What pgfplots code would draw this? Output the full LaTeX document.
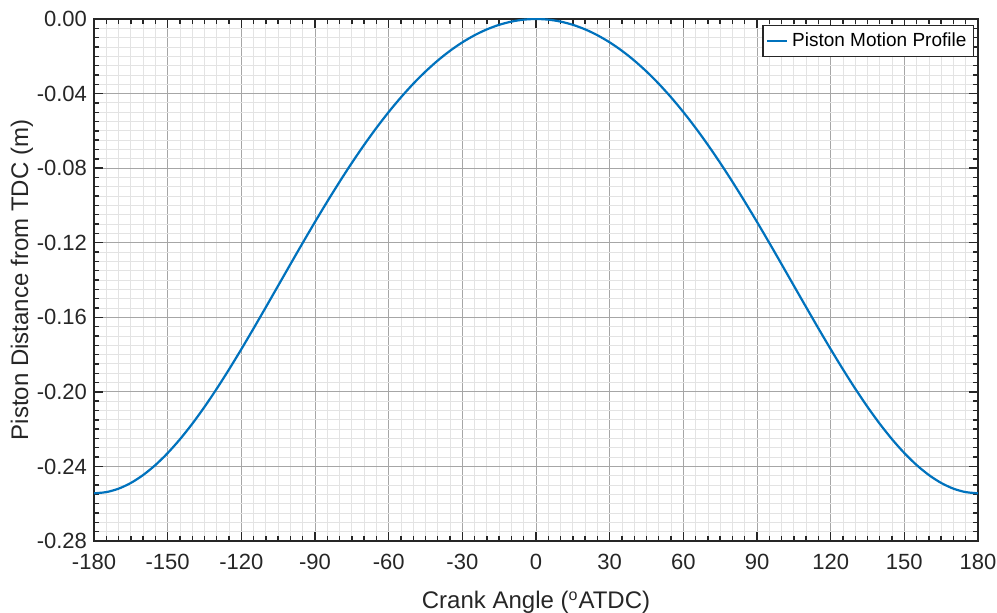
\documentclass[border=0pt]{standalone}
\usepackage{fontspec}
\setmainfont{Liberation Sans}
\usepackage{pgfplots}
\pgfplotsset{compat=1.18}
\definecolor{mblue}{rgb}{0,0.447,0.741}
\definecolor{axcol}{rgb}{0.15,0.15,0.15}
\begin{document}
\begin{tikzpicture}
\begin{axis}[
  scale only axis,
  width=442pt, height=261pt,
  xmin=-180, xmax=180, ymin=-0.28, ymax=0,
  xtick={-180,-150,...,180},
  ytick={-0.28,-0.24,-0.20,-0.16,-0.12,-0.08,-0.04,0},
  minor x tick num=5,
  minor y tick num=7,
  grid=both,
  major grid style={draw=black!35, line width=0.5pt},
  minor grid style={draw=black!11, line width=0.4pt},
  axis line style={draw=axcol, line width=0.8pt},
  tick style={draw=axcol, line width=0.7pt},
  major tick length=4.4pt,
  minor tick length=2.4pt,
  tick align=inside,
  xtick pos=both, ytick pos=both,
  /pgf/number format/assume math mode=true,
  ticklabel style={font=\fontsize{11}{13}\selectfont, text=axcol},
  xticklabel style={yshift=-3pt},
  yticklabel style={/pgf/number format/fixed, /pgf/number format/fixed zerofill, /pgf/number format/precision=2},
  xlabel={Crank Angle (\textsuperscript{o}ATDC)},
  ylabel={Piston Distance from TDC (m)},
  label style={font=\fontsize{12}{14}\selectfont, text=axcol},
  xlabel style={yshift=-4pt},
  ylabel style={yshift=-5pt},
  legend style={at={(1,1)}, anchor=north east, xshift=-2pt, yshift=-3pt,
    font=\fontsize{9.5}{11}\selectfont, draw=axcol, line width=0.6pt, inner sep=1.5pt,
    cells={anchor=west}},
  legend image code/.code={\draw[#1, line width=1.1pt] (0pt,0pt) -- (10pt,0pt);},
  legend cell align=left,
]
\addplot[mblue, line width=1.1pt, smooth] coordinates {
(-180,-0.25440)(-175,-0.25378)(-170,-0.25193)(-165,-0.24886)(-160,-0.24462)
(-155,-0.23926)(-150,-0.23284)(-145,-0.22544)(-140,-0.21715)(-135,-0.20807)
(-130,-0.19829)(-125,-0.18793)(-120,-0.17711)(-115,-0.16595)(-110,-0.15455)
(-105,-0.14304)(-100,-0.13151)(-95,-0.12009)(-90,-0.10886)(-85,-0.09792)
(-80,-0.08734)(-75,-0.07719)(-70,-0.06754)(-65,-0.05843)(-60,-0.04991)
(-55,-0.04202)(-50,-0.03476)(-45,-0.02818)(-40,-0.02227)(-35,-0.01705)
(-30,-0.01253)(-25,-0.00870)(-20,-0.00556)(-15,-0.00313)(-10,-0.00139)
(-5,-0.00035)(0,0)
(5,-0.00035)(10,-0.00139)(15,-0.00313)(20,-0.00556)(25,-0.00870)
(30,-0.01253)(35,-0.01705)(40,-0.02227)(45,-0.02818)(50,-0.03476)
(55,-0.04202)(60,-0.04991)(65,-0.05843)(70,-0.06754)(75,-0.07719)
(80,-0.08734)(85,-0.09792)(90,-0.10886)(95,-0.12009)(100,-0.13151)
(105,-0.14304)(110,-0.15455)(115,-0.16595)(120,-0.17711)(125,-0.18793)
(130,-0.19829)(135,-0.20807)(140,-0.21715)(145,-0.22544)(150,-0.23284)
(155,-0.23926)(160,-0.24462)(165,-0.24886)(170,-0.25193)(175,-0.25378)
(180,-0.25440)
};
\addlegendentry{Piston Motion Profile}
\end{axis}
\pgfresetboundingbox
\path[use as bounding box] ([shift={(-47pt,-36pt)}]current axis.south west) rectangle ([shift={(9.5pt,9.5pt)}]current axis.north east);
\end{tikzpicture}
\end{document}
